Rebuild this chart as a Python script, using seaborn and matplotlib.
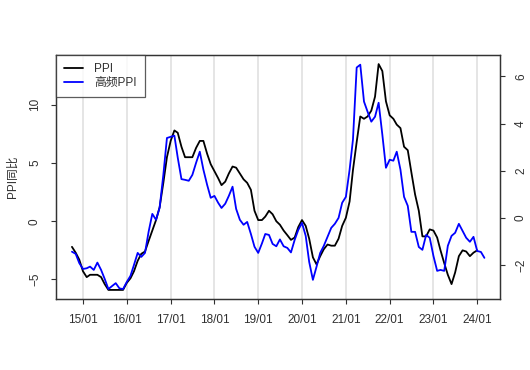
import pandas as pd
import matplotlib
matplotlib.use('Agg')
import matplotlib.pyplot as plt
import matplotlib.dates as mdates
import seaborn as sns

sns.set_style('ticks')
plt.rcParams['font.family'] = ['Liberation Sans', 'Noto Sans CJK SC', 'DejaVu Sans']

# monthly PPI yoy, 2014-10 .. 2024-01 (left axis)
ppi = [-2.2, -2.7, -3.3,
       -4.3, -4.8, -4.6, -4.6, -4.6, -4.8, -5.4, -5.9, -5.9, -5.9, -5.9, -5.9,
       -5.3, -4.9, -4.3, -3.4, -2.8, -2.6, -1.7, -0.8, 0.1, 1.2, 3.3, 5.5,
       6.9, 7.8, 7.6, 6.4, 5.5, 5.5, 5.5, 6.3, 6.9, 6.9, 5.8, 4.9,
       4.3, 3.7, 3.1, 3.4, 4.1, 4.7, 4.6, 4.1, 3.6, 3.3, 2.7, 0.9,
       0.1, 0.1, 0.4, 0.9, 0.6, 0.0, -0.3, -0.8, -1.2, -1.6, -1.4, -0.5,
       0.1, -0.4, -1.5, -3.1, -3.7, -3.0, -2.4, -2.0, -2.1, -2.1, -1.5, -0.4,
       0.3, 1.7, 4.4, 6.8, 9.0, 8.8, 9.0, 9.5, 10.7, 13.5, 12.9, 10.3,
       9.1, 8.8, 8.3, 8.0, 6.4, 6.1, 4.2, 2.3, 0.9, -1.3, -1.3, -0.7,
       -0.8, -1.4, -2.5, -3.6, -4.6, -5.4, -4.4, -3.0, -2.5, -2.6, -3.0, -2.7,
       -2.5]

# high-frequency PPI estimate, 2014-10 .. 2024-03 (right axis)
hf_ppi = [-1.42, -1.51, -1.90,
          -2.15, -2.12, -2.05, -2.19, -1.88, -2.19, -2.57, -3.00, -2.87, -2.75, -2.97, -3.00,
          -2.70, -2.44, -1.98, -1.47, -1.64, -1.47, -0.58, 0.18, -0.07, 0.44, 1.83, 3.39,
          3.44, 3.49, 2.56, 1.65, 1.62, 1.58, 1.83, 2.34, 2.81, 2.05, 1.41, 0.86,
          0.94, 0.65, 0.43, 0.61, 0.94, 1.33, 0.39, -0.07, -0.28, -0.16, -0.67, -1.21,
          -1.47, -1.07, -0.67, -0.71, -1.09, -1.19, -0.90, -1.19, -1.26, -1.45, -0.92, -0.50,
          -0.20, -0.75, -1.85, -2.61, -2.06, -1.47, -1.17, -0.79, -0.41, -0.24, 0.01, 0.65,
          0.90, 2.05, 3.32, 6.37, 6.49, 4.93, 4.50, 4.08, 4.29, 4.88, 3.53, 2.13,
          2.47, 2.43, 2.81, 2.05, 0.90, 0.52, -0.58, -0.58, -1.22, -1.34, -0.71, -0.83,
          -1.60, -2.23, -2.19, -2.23, -1.17, -0.75, -0.62, -0.24, -0.54, -0.83, -1.00, -0.79,
          -1.39, -1.43, -1.68]

ppi_dates = pd.date_range('2014-10-01', periods=len(ppi), freq='MS')
hf_dates = pd.date_range('2014-10-01', periods=len(hf_ppi), freq='MS')
year_ticks = pd.date_range('2015-01-01', '2024-01-01', freq='YS')

fig = plt.figure(figsize=(5.3, 3.7), dpi=100)
ax = fig.add_axes([56 / 530, 1 - 299 / 370, 444 / 530, 244 / 370])

ax.grid(axis='x', color='#e3e3e3', lw=1.3)
ax.set_axisbelow(True)
sns.lineplot(x=ppi_dates, y=ppi, ax=ax, color='black', lw=1.3, label='PPI', legend=False)

ax2 = ax.twinx()
sns.lineplot(x=hf_dates, y=hf_ppi, ax=ax2, color='#0000ff', lw=1.3, label='高频PPI', legend=False)

ax.set_xlim(pd.Timestamp('2014-05-21'), pd.Timestamp('2024-07-09'))
ax.set_ylim(-6.68, 14.28)
ax2.set_ylim(-3.42, 6.9)

ax.set_xticks(year_ticks)
ax.xaxis.set_major_formatter(mdates.DateFormatter('%y/%m'))
ax.set_yticks([-5, 0, 5, 10])
ax2.set_yticks([-2, 0, 2, 4, 6])

tc = '#303030'
ax.tick_params(axis='x', length=3.8, width=0.8, pad=7, labelsize=8.5, colors=tc)
ax.tick_params(axis='y', length=3.8, width=0.8, pad=7, labelsize=8.5, colors=tc)
ax2.tick_params(axis='y', length=3.8, width=0.8, pad=7, labelsize=8.5, colors=tc)
for lab in ax.get_yticklabels():
    lab.set_rotation(90)
    lab.set_va('center')
for lab in ax2.get_yticklabels():
    lab.set_rotation(90)
    lab.set_va('center')

ax.set_xlabel('')
ax.set_ylabel('PPI同比', fontsize=8.5, color=tc, labelpad=7)
ax2.set_ylabel('')

for a in (ax, ax2):
    for sp in a.spines.values():
        sp.set_color('#333333')
        sp.set_linewidth(0.9)

h1, l1 = ax.get_legend_handles_labels()
h2, l2 = ax2.get_legend_handles_labels()
leg = ax2.legend(h1 + h2, l1 + l2, loc='upper left', borderaxespad=0, fontsize=8.5,
                 fancybox=False, frameon=True, handlelength=1.6, handletextpad=0.9,
                 borderpad=0.7, labelspacing=0.15)
leg.get_frame().set_edgecolor('#333333')
leg.get_frame().set_linewidth(0.9)
for t in leg.get_texts():
    t.set_color(tc)

fig.savefig('out.png', dpi=100)
